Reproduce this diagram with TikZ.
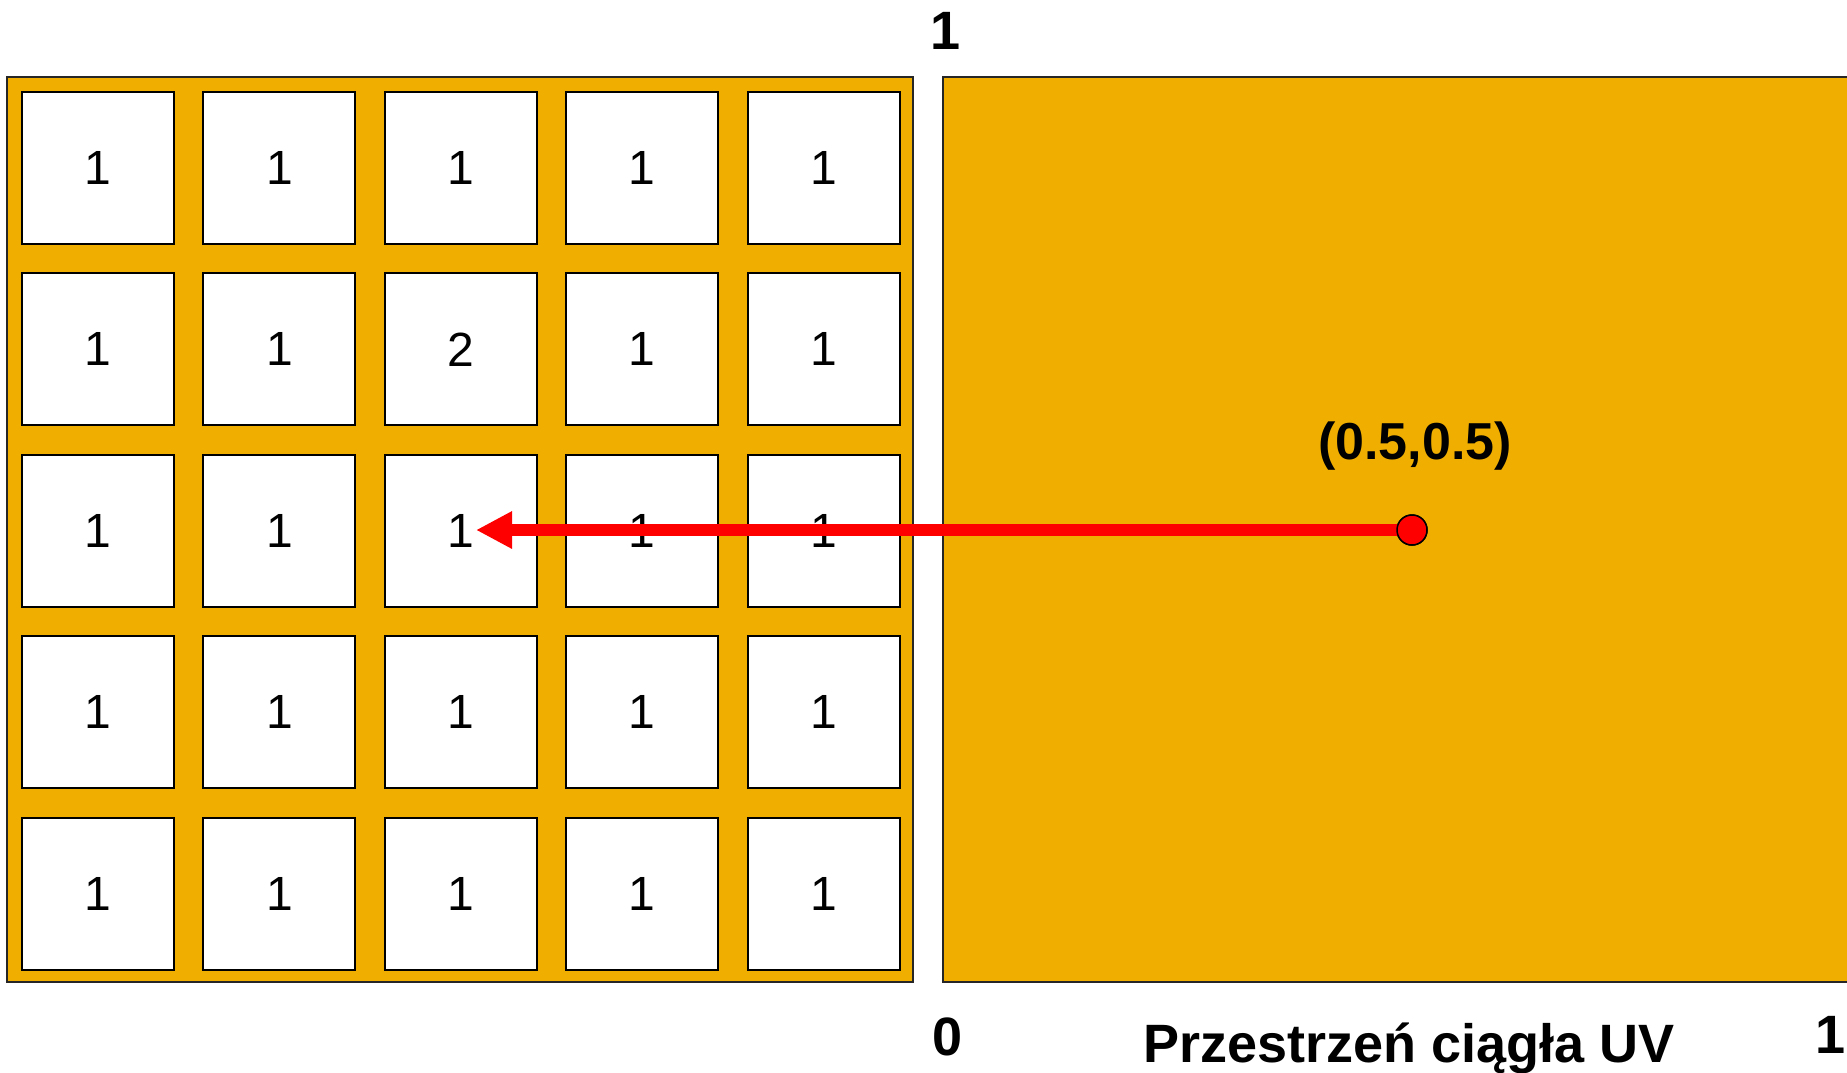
\documentclass[tikz,border=0pt]{standalone}
\usepackage{fontspec}
\setmainfont{Liberation Sans}
\usetikzlibrary{arrows.meta}
\definecolor{gold}{RGB}{240,174,0}
\tikzset{
  cellbox/.style={draw=black, line width=2pt, fill=white, minimum width=152pt, minimum height=152pt, inner sep=0pt, anchor=north west, font=\fontsize{48}{56}\selectfont},
  panel/.style={draw=black!85, line width=2pt, fill=gold},
  boldlbl/.style={font=\fontsize{54}{62}\selectfont\bfseries, inner sep=0pt, anchor=base},
  sampledot/.style={circle, draw=black, line width=1.5pt, fill=red, minimum size=30pt, inner sep=0pt},
}
\begin{document}
\begin{tikzpicture}[x=1pt,y=-1pt]
\useasboundingbox (0,0) rectangle (1847,1072);
\clip (0,0) rectangle (1847,1072);
% left grid panel
\draw[panel] (7,77) rectangle (913,982);
\foreach \i in {0,...,4}{
  \foreach \j in {0,...,4}{
    \node[cellbox] (c\i\j) at ({21+181.4*\j},{91+181.4*\i}) {\ifnum\i=1 \ifnum\j=2 2\else 1\fi\else 1\fi};
  }
}
% right continuous panel
\draw[panel] (943,77) rectangle (1852,982);
% labels
\node[boldlbl] (top1) at (946,49) {1};
\node[boldlbl] (zero) at (948,1055) {0};
\node[boldlbl] (title) at (1409,1062) {Przestrzeń ciągła UV};
\node[boldlbl] (one) at (1830,1053) {1};
\node[boldlbl, font=\fontsize{52}{60}\selectfont\bfseries] (uvlbl) at (1415,459) {(0.5,0.5)};
% sample point and arrow
\node[sampledot] (dot) at (1412,530) {};
\coordinate (tip) at (476,530);
\draw[red, line width=12pt, -{Triangle[length=36pt, width=35pt]}] (dot.center) -- (tip);
\node[sampledot] at (dot) {};
\end{tikzpicture}
\end{document}
